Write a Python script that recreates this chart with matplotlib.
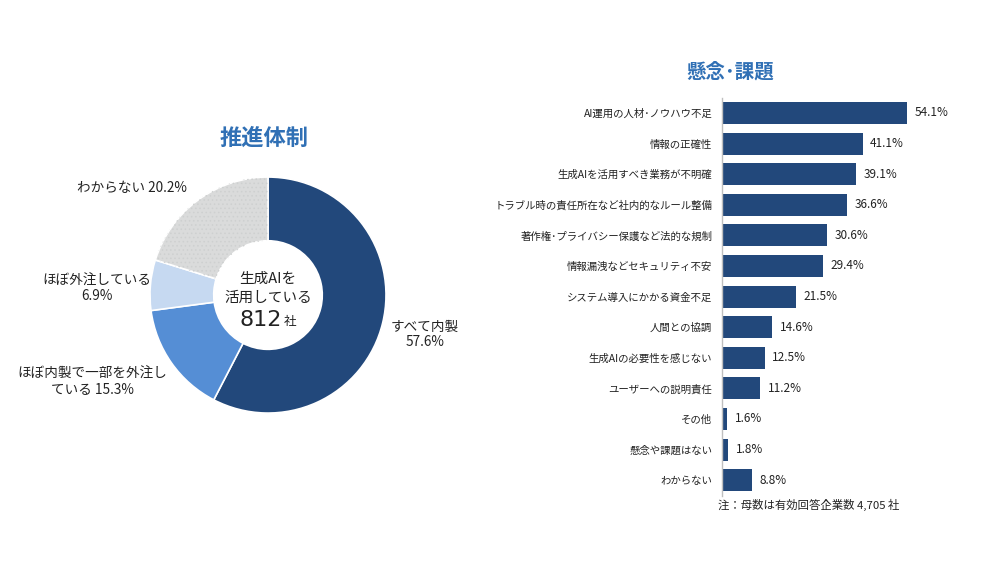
import numpy as np
import matplotlib.pyplot as plt
from matplotlib.patches import Wedge

plt.rcParams['font.family'] = ['Noto Sans CJK JP', 'DejaVu Sans']
plt.rcParams['hatch.linewidth'] = 0.6

# ------ data ------
pie_labels = ["すべて内製\n57.6%", "ほぼ内製で一部を外注し\nている 15.3%",
              "ほぼ外注している\n6.9%", "わからない 20.2%"]
pie_values = [57.6, 15.3, 6.9, 20.2]
pie_colors = ["#22487B", "#558ED5", "#C6D9F1", "#DADBDB"]

bar_labels = ["AI運用の人材･ノウハウ不足", "情報の正確性", "生成AIを活用すべき業務が不明確",
              "トラブル時の責任所在など社内的なルール整備", "著作権･プライバシー保護など法的な規制",
              "情報漏洩などセキュリティ不安", "システム導入にかかる資金不足", "人間との協調",
              "生成AIの必要性を感じない", "ユーザーへの説明責任", "その他",
              "懸念や課題はない", "わからない"]
bar_values = [54.1, 41.1, 39.1, 36.6, 30.6, 29.4, 21.5, 14.6, 12.5, 11.2, 1.6, 1.8, 8.8]

title_color = "#3070B5"
navy = "#22487B"

fig = plt.figure(figsize=(10, 5.62), dpi=100)

# -------- donut --------
ax1 = fig.add_axes([0.150, 0.265, 0.236, 0.42])
wedges, _ = ax1.pie(pie_values, colors=pie_colors, startangle=90, counterclock=False,
                    radius=1, wedgeprops=dict(width=0.54, edgecolor="white", linewidth=1.2))
# faint dot pattern on the "わからない" slice
w = wedges[3]
dots = Wedge(w.center, w.r, w.theta1, w.theta2, width=w.width, facecolor="none",
             edgecolor="#CED0D0", linewidth=0, hatch="....")
ax1.add_patch(dots)
ax1.set_xlim(-1, 1)
ax1.set_ylim(-1, 1)
ax1.axis("off")

label_pos = [(1.33, -0.33), (-1.49, -0.73), (-1.45, 0.06), (-1.15, 0.91)]
for txt, (lx, ly) in zip(pie_labels, label_pos):
    ax1.text(lx, ly, txt, ha="center", va="center", fontsize=9.8,
             color="#222222", linespacing=1.1)

ax1.text(0, 0.14, "生成AIを", ha="center", va="center", fontsize=10.5, color="#222222")
ax1.text(0, -0.025, "活用している", ha="center", va="center", fontsize=10.5, color="#222222")
ax1.text(0.12, -0.21, "812", ha="right", va="center", fontsize=16, color="#222222",
         family=["DejaVu Sans"])
ax1.text(0.13, -0.22, "社", ha="left", va="center", fontsize=9, color="#222222")

fig.text(0.264, 1 - 138 / 562, "推進体制", ha="center", va="center", fontsize=16,
         fontweight="bold", color=title_color)

# -------- bars --------
ax2 = fig.add_axes([0.722, 0.1183, 0.2394, 0.708])
y = np.arange(len(bar_values))
ax2.barh(y, bar_values, height=0.72, color=navy)
ax2.set_ylim(len(bar_values) - 0.5, -0.5)
ax2.set_xlim(0, 70)
ax2.set_yticks(y)
ax2.set_yticklabels(bar_labels, fontsize=7.5, color="#222222")
ax2.tick_params(axis="y", length=0, pad=7)
ax2.set_xticks([])
for s in ["top", "right", "bottom"]:
    ax2.spines[s].set_visible(False)
ax2.spines["left"].set_color("#BFBFBF")
ax2.spines["left"].set_linewidth(1)
for yi, v in zip(y, bar_values):
    ax2.text(v + 2.2, yi, f"{v:.1f}%", va="center", ha="left", fontsize=8.5,
             color="#222222")

fig.text(0.730, 1 - 72 / 562, "懸念･課題", ha="center", va="center", fontsize=14,
         fontweight="bold", color=title_color)
fig.text(0.718, 1 - 505 / 562, "注：母数は有効回答企業数 4,705 社", ha="left", va="center",
         fontsize=8.2, color="#222222")

fig.savefig("out.png", dpi=100)
